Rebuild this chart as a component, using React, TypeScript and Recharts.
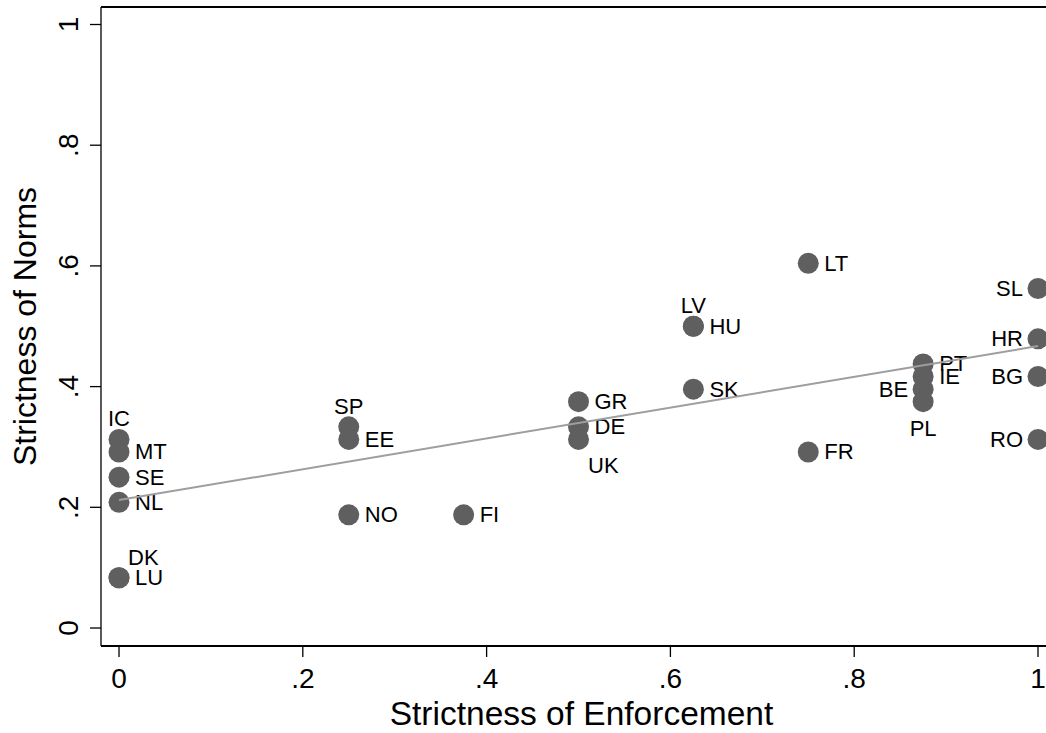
import { ScatterChart, Scatter, XAxis, YAxis, ReferenceLine, Label } from "recharts";

// Country codes with their enforcement / norms scores
const COUNTRIES = [
    "IC", "MT", "SE", "NL", "DK", "LU",
    "SP", "EE", "NO", "FI",
    "GR", "DE", "UK",
    "LV", "HU", "SK",
    "LT", "FR",
    "PT", "IE", "BE", "PL",
    "SL", "HR", "BG", "RO",
];
const ENFORCEMENT = [
    0, 0, 0, 0, 0, 0,
    0.25, 0.25, 0.25, 0.375,
    0.5, 0.5, 0.5,
    0.625, 0.625, 0.625,
    0.75, 0.75,
    0.875, 0.875, 0.875, 0.875,
    1, 1, 1, 1,
];
const NORMS = [
    0.3125, 0.2917, 0.25, 0.2083, 0.0833, 0.0833,
    0.3333, 0.3125, 0.1875, 0.1875,
    0.375, 0.3333, 0.3125,
    0.5, 0.5, 0.3958,
    0.6042, 0.2917,
    0.4375, 0.4167, 0.3958, 0.375,
    0.5625, 0.4792, 0.4167, 0.3125,
];
const TICKS = [0, 0.2, 0.4, 0.6, 0.8, 1];

// marker label placement as clock positions (3 = right of marker)
const LABEL_CLOCK: Record<string, number> = {
    IC: 12, SP: 12, LV: 12, DK: 1, UK: 5, PL: 6,
    BE: 9, SL: 9, HR: 9, BG: 9, RO: 9,
};

const FONT = '"Liberation Sans", Arial, Helvetica, sans-serif';
const MARKER = "#5f5f5f";
const FIT = "#9e9e9e";

const points = COUNTRIES.map((code, i) => ({ code, x: ENFORCEMENT[i], y: NORMS[i] }));

// least-squares line through the points
function linearFit(xs: number[], ys: number[]) {
    const n = xs.length;
    const mx = xs.reduce((a, b) => a + b, 0) / n;
    const my = ys.reduce((a, b) => a + b, 0) / n;
    let sxy = 0;
    let sxx = 0;
    xs.forEach((x, i) => {
        sxy += (x - mx) * (ys[i] - my);
        sxx += (x - mx) * (x - mx);
    });
    const slope = sxy / sxx;
    return { slope, intercept: my - slope * mx };
}

const { slope, intercept } = linearFit(ENFORCEMENT, NORMS);
const fitLine = [0, 1].map((x) => ({ x, y: intercept + slope * x }));

const X_DOMAIN: [number, number] = [-0.0196, 1.0087];
const Y_DOMAIN: [number, number] = [-0.0298, 1.029];

const fmt = (v: number) => (v === 0 || v === 1 ? String(v) : String(v).replace(/^0/, ""));

function CountryMarker(props: any) {
    const { cx, cy, payload } = props;
    const pos = LABEL_CLOCK[payload.code] ?? 3;
    let tx = cx + 16;
    let ty = cy;
    let anchor: "start" | "middle" | "end" = "start";
    if (pos === 12) { tx = cx; ty = cy - 20.5; anchor = "middle"; }
    else if (pos === 1) { tx = cx + 9; ty = cy - 20.5; }
    else if (pos === 5) { tx = cx + 9.5; ty = cy + 26; }
    else if (pos === 6) { tx = cx; ty = cy + 27; anchor = "middle"; }
    else if (pos === 9) { tx = cx - 15; anchor = "end"; }
    return (
        <g>
            <circle cx={cx} cy={cy} r={10.5} fill={MARKER} />
            <text x={tx} y={ty} textAnchor={anchor} dominantBaseline="central"
                fontFamily={FONT} fontSize={22} fill="#000">
                {payload.code}
            </text>
        </g>
    );
}

function XTick({ x, y, payload }: any) {
    return (
        <text x={x} y={y + 31} textAnchor="middle" fontFamily={FONT} fontSize={28} fill="#000">
            {fmt(payload.value)}
        </text>
    );
}

function YTick({ x, y, payload }: any) {
    const bx = x - 12;
    return (
        <text x={bx} y={y} transform={`rotate(-90 ${bx} ${y})`} textAnchor="middle"
            fontFamily={FONT} fontSize={28} fill="#000">
            {fmt(payload.value)}
        </text>
    );
}

export default function App() {
    return (
        <div style={{ position: "absolute", left: 0, top: 0, width: 1046, height: 733, background: "#fff" }}>
            <ScatterChart width={1046} height={733} margin={{ top: 7, right: 0, bottom: 0, left: 0 }}>
                <XAxis
                    type="number"
                    dataKey="x"
                    domain={X_DOMAIN}
                    ticks={TICKS}
                    interval={0}
                    allowDataOverflow
                    height={87}
                    tickSize={11}
                    tickMargin={0}
                    axisLine={{ stroke: "#000", strokeWidth: 2 }}
                    tickLine={{ stroke: "#000", strokeWidth: 1.3 }}
                    tick={<XTick />}
                >
                    <Label
                        content={({ viewBox }: any) => (
                            <text x={viewBox.x + viewBox.width / 2 + 8} y={725} textAnchor="middle"
                                fontFamily={FONT} fontSize={33.5} fill="#000">
                                Strictness of Enforcement
                            </text>
                        )}
                    />
                </XAxis>
                <YAxis
                    type="number"
                    dataKey="y"
                    domain={Y_DOMAIN}
                    ticks={TICKS}
                    interval={0}
                    allowDataOverflow
                    width={101}
                    tickSize={11}
                    tickMargin={0}
                    axisLine={{ stroke: "#000", strokeWidth: 1.3 }}
                    tickLine={{ stroke: "#000", strokeWidth: 1.3 }}
                    tick={<YTick />}
                >
                    <Label
                        content={({ viewBox }: any) => {
                            const cy = viewBox.y + viewBox.height / 2;
                            return (
                                <text x={36} y={cy} transform={`rotate(-90 36 ${cy})`} textAnchor="middle"
                                    fontFamily={FONT} fontSize={32} fill="#000">
                                    Strictness of Norms
                                </text>
                            );
                        }}
                    />
                </YAxis>
                <ReferenceLine y={Y_DOMAIN[1]} stroke="#000" strokeWidth={2} />
                <Scatter data={points} shape={<CountryMarker />} isAnimationActive={false} />
                <Scatter
                    data={fitLine}
                    line={{ stroke: FIT, strokeWidth: 2 }}
                    shape={() => <g />}
                    isAnimationActive={false}
                />
            </ScatterChart>
        </div>
    );
}
